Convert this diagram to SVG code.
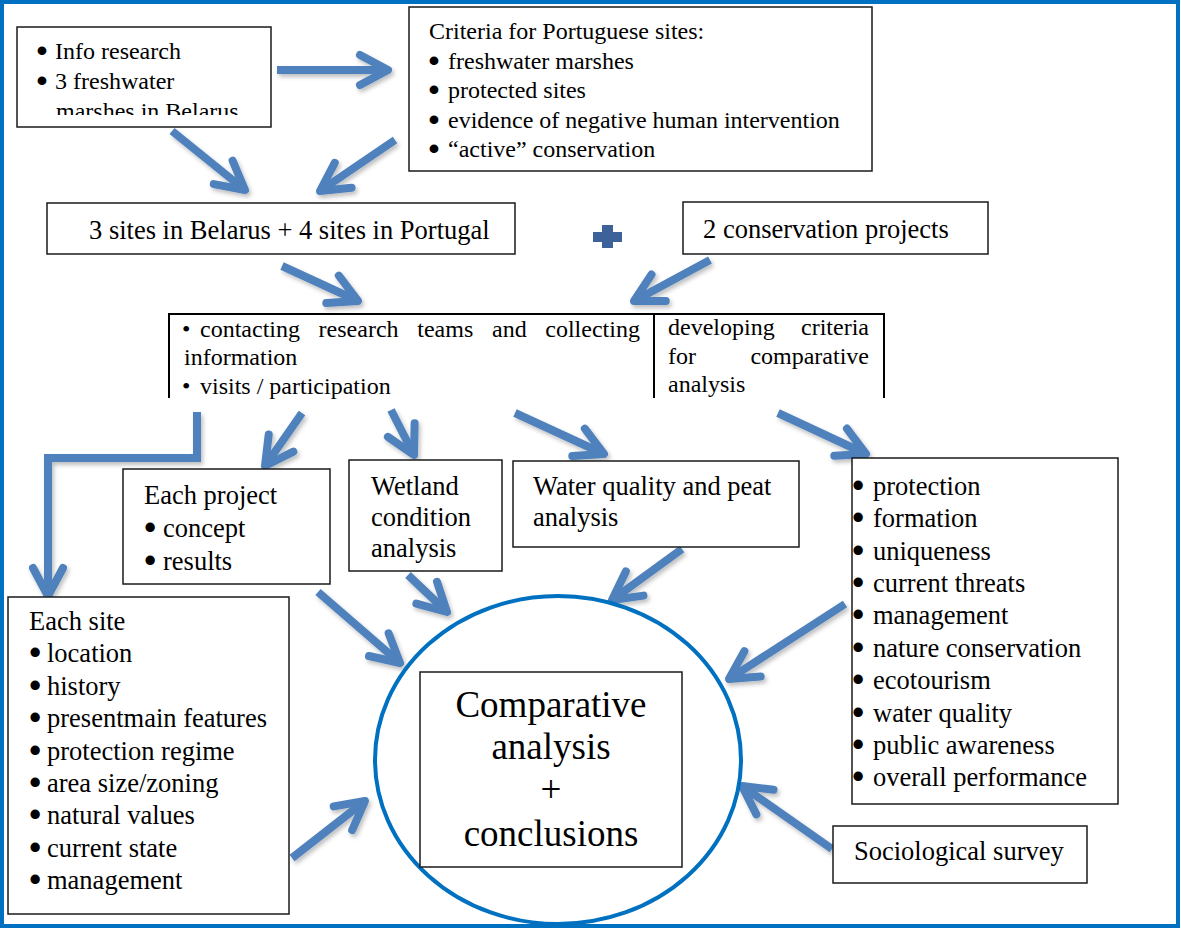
<svg xmlns="http://www.w3.org/2000/svg" width="1181" height="929" viewBox="0 0 1181 929">
<style>
.box{fill:#fff;stroke:#1a1a1a;stroke-width:1.5}
.t{font-family:"Liberation Serif","Times New Roman",serif;fill:#000}
.s24{font-size:24px}
.s26{font-size:26.5px}
.s37{font-size:37px}
.bl{stroke:#000;stroke-width:3;stroke-linejoin:round}
.arr{fill:none;stroke:#4F81BD;stroke-width:8;stroke-linecap:butt;stroke-linejoin:miter}
</style>
<defs>
<marker id="ah" markerUnits="userSpaceOnUse" viewBox="-40 -22 50 44" markerWidth="50" markerHeight="44" refX="0" refY="0" orient="auto">
<path d="M-28,-15 L0,0 L-28,15" fill="none" stroke="#4F81BD" stroke-width="8" stroke-linecap="round" stroke-linejoin="round"/>
</marker>
<filter id="sh" x="-20%" y="-20%" width="140%" height="140%">
<feDropShadow dx="2" dy="3" stdDeviation="2" flood-color="#000" flood-opacity="0.25"/>
</filter>
<clipPath id="clipInfo"><rect x="17" y="27" width="254" height="88"/></clipPath>
<clipPath id="clipMid"><rect x="165" y="310" width="725" height="90"/></clipPath>
</defs>
<rect x="0" y="0" width="1181" height="929" fill="#fff"/>
<rect id="frame" x="2" y="2" width="1176" height="924" fill="none" stroke="#0070C0" stroke-width="4"/>

<g id="connectors" filter="url(#sh)">
<path class="arr" d="M277,70 L388,70" marker-end="url(#ah)"/>
<path class="arr" d="M172,131 L245,190" marker-end="url(#ah)"/>
<path class="arr" d="M395,140 L320,191" marker-end="url(#ah)"/>
<path class="arr" d="M282,266 L358,301" marker-end="url(#ah)"/>
<path class="arr" d="M710,260 L634,301" marker-end="url(#ah)"/>
<path class="arr" d="M197,412 L197,458 L48,458 L48,596" marker-end="url(#ah)"/>
<path class="arr" d="M302,413 L265,466" marker-end="url(#ah)"/>
<path class="arr" d="M391,410 L414,455" marker-end="url(#ah)"/>
<path class="arr" d="M515,413 L604,454" marker-end="url(#ah)"/>
<path class="arr" d="M778,413 L866,454" marker-end="url(#ah)"/>
<path class="arr" d="M318,592 L400,663" marker-end="url(#ah)"/>
<path class="arr" d="M408,575 L447,612" marker-end="url(#ah)"/>
<path class="arr" d="M682,549 L612,600" marker-end="url(#ah)"/>
<path class="arr" d="M845,604 L729,679" marker-end="url(#ah)"/>
<path class="arr" d="M292,858 L365,801" marker-end="url(#ah)"/>
<path class="arr" d="M832,849 L742,786" marker-end="url(#ah)"/>
</g>

<g id="n-info">
<rect class="box" x="17" y="27" width="254" height="100"/>
<g clip-path="url(#clipInfo)">
<text class="t s24" y="59"><tspan class="bl" x="37.8">•</tspan><tspan x="55">Info research</tspan></text>
<text class="t s24" y="89"><tspan class="bl" x="37.8">•</tspan><tspan x="55">3 freshwater</tspan></text>
<text class="t s24" x="56" y="119">marshes in Belarus</text>
</g>
</g>

<g id="n-criteria">
<rect class="box" x="409" y="7" width="463" height="164"/>
<text class="t s24" x="429" y="39">Criteria for Portuguese sites:</text>
<text class="t s24" y="68.5"><tspan class="bl" x="429.8">•</tspan><tspan x="448">freshwater marshes</tspan></text>
<text class="t s24" y="98"><tspan class="bl" x="429.8">•</tspan><tspan x="448">protected sites</tspan></text>
<text class="t s24" y="127.5"><tspan class="bl" x="429.8">•</tspan><tspan x="448">evidence of negative human intervention</tspan></text>
<text class="t s24" y="157"><tspan class="bl" x="429.8">•</tspan><tspan x="448">“active” conservation</tspan></text>
</g>

<g id="n-sites">
<rect class="box" x="47" y="203" width="468" height="51"/>
<text class="t s26" x="89" y="239">3 sites in Belarus + 4 sites in Portugal</text>
</g>

<g id="n-plus">
<path d="M602,225 H613 V232 H622 V242 H613 V248 H602 V242 H593 V232 H602 Z" fill="#3D6299"/>
</g>

<g id="n-projects">
<rect class="box" x="683" y="202" width="305" height="52"/>
<text class="t s26" x="703" y="238">2 conservation projects</text>
</g>

<g id="n-collect">
<path d="M169,398 V314 H884 V398 M654,314 V398" fill="none" stroke="#000" stroke-width="2"/>
<g clip-path="url(#clipMid)">
<text class="t s24" y="337"><tspan x="182">•</tspan><tspan x="200">contacting</tspan><tspan x="318.6">research</tspan><tspan x="417.3">teams</tspan><tspan x="492">and</tspan><tspan x="545.3">collecting</tspan></text>
<text class="t s24" x="184" y="365">information</text>
<text class="t s24" y="394"><tspan x="182">•</tspan><tspan x="200">visits / participation</tspan></text>
<text class="t s24" x="668" y="335">developing</text>
<text class="t s24" x="869" y="335" text-anchor="end">criteria</text>
<text class="t s24" x="668" y="364">for</text>
<text class="t s24" x="869" y="364" text-anchor="end">comparative</text>
<text class="t s24" x="668" y="392">analysis</text>
</g>
</g>

<g id="n-eachproject">
<rect class="box" x="123" y="469" width="207" height="115"/>
<text class="t s26" x="144" y="504">Each project</text>
<text class="t s26" y="537"><tspan class="bl" x="145.4">•</tspan><tspan x="163">concept</tspan></text>
<text class="t s26" y="570"><tspan class="bl" x="145.4">•</tspan><tspan x="163">results</tspan></text>
</g>

<g id="n-wetland">
<rect class="box" x="349" y="460" width="153" height="111"/>
<text class="t s26" x="371" y="495">Wetland</text>
<text class="t s26" x="371" y="526">condition</text>
<text class="t s26" x="371" y="557">analysis</text>
</g>

<g id="n-water">
<rect class="box" x="513" y="461" width="286" height="86"/>
<text class="t s26" x="533" y="495">Water quality and peat</text>
<text class="t s26" x="533" y="526">analysis</text>
</g>

<g id="n-criteria-list">
<rect class="box" x="852" y="458" width="266" height="346"/>
<text class="t s26" y="495"><tspan class="bl" x="853.4">•</tspan><tspan x="873">protection</tspan></text>
<text class="t s26" y="527.4"><tspan class="bl" x="853.4">•</tspan><tspan x="873">formation</tspan></text>
<text class="t s26" y="559.7"><tspan class="bl" x="853.4">•</tspan><tspan x="873">uniqueness</tspan></text>
<text class="t s26" y="592"><tspan class="bl" x="853.4">•</tspan><tspan x="873">current threats</tspan></text>
<text class="t s26" y="624.4"><tspan class="bl" x="853.4">•</tspan><tspan x="873">management</tspan></text>
<text class="t s26" y="656.8"><tspan class="bl" x="853.4">•</tspan><tspan x="873">nature conservation</tspan></text>
<text class="t s26" y="689.1"><tspan class="bl" x="853.4">•</tspan><tspan x="873">ecotourism</tspan></text>
<text class="t s26" y="721.5"><tspan class="bl" x="853.4">•</tspan><tspan x="873">water quality</tspan></text>
<text class="t s26" y="753.8"><tspan class="bl" x="853.4">•</tspan><tspan x="873">public awareness</tspan></text>
<text class="t s26" y="786.2"><tspan class="bl" x="853.4">•</tspan><tspan x="873">overall performance</tspan></text>
</g>

<g id="n-eachsite">
<rect class="box" x="8" y="597" width="281" height="317"/>
<text class="t s26" x="29" y="630">Each site</text>
<text class="t s26" y="662.4"><tspan class="bl" x="30.4">•</tspan><tspan x="47">location</tspan></text>
<text class="t s26" y="694.8"><tspan class="bl" x="30.4">•</tspan><tspan x="47">history</tspan></text>
<text class="t s26" y="727.2"><tspan class="bl" x="30.4">•</tspan><tspan x="47">presentmain features</tspan></text>
<text class="t s26" y="759.6"><tspan class="bl" x="30.4">•</tspan><tspan x="47">protection regime</tspan></text>
<text class="t s26" y="792"><tspan class="bl" x="30.4">•</tspan><tspan x="47">area size/zoning</tspan></text>
<text class="t s26" y="824.4"><tspan class="bl" x="30.4">•</tspan><tspan x="47">natural values</tspan></text>
<text class="t s26" y="856.8"><tspan class="bl" x="30.4">•</tspan><tspan x="47">current state</tspan></text>
<text class="t s26" y="889.2"><tspan class="bl" x="30.4">•</tspan><tspan x="47">management</tspan></text>
</g>

<g id="n-survey">
<rect class="box" x="833" y="826" width="254" height="57"/>
<text class="t s26" x="854" y="860">Sociological survey</text>
</g>

<g id="n-result">
<ellipse cx="558" cy="760" rx="183" ry="164" fill="#fff" stroke="#0070C0" stroke-width="4"/>
<rect class="box" x="420" y="672" width="262" height="195"/>
<text class="t s37" x="551" y="717" text-anchor="middle">Comparative</text>
<text class="t s37" x="551" y="759" text-anchor="middle">analysis</text>
<text class="t s37" x="551" y="802" text-anchor="middle">+</text>
<text class="t s37" x="551" y="846" text-anchor="middle">conclusions</text>
</g>
</svg>
